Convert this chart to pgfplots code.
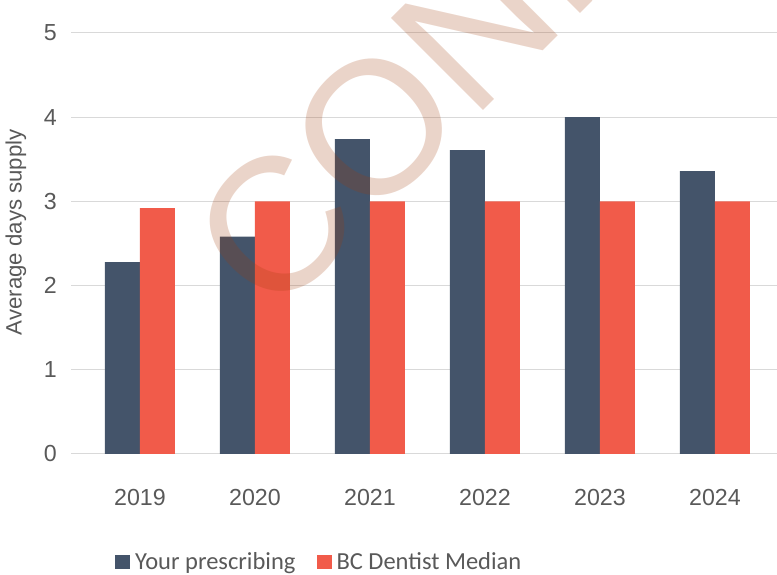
\documentclass[border=0pt]{standalone}
\usepackage{pgfplots}
\pgfplotsset{compat=1.18}
\usepackage{fontspec}
\setmainfont{Liberation Sans}
\newfontfamily\carlito{Carlito}
\definecolor{darkbar}{RGB}{68,84,106}
\definecolor{redbar}{RGB}{241,91,74}
\definecolor{gridc}{RGB}{217,217,217}
\definecolor{txt}{RGB}{89,89,89}
\definecolor{wm}{RGB}{160,60,10}
\begin{document}
\begin{tikzpicture}
\useasboundingbox (0,0) rectangle (777bp,575bp);
\clip (0,0) rectangle (777bp,575bp);
\begin{axis}[
  at={(71bp,121bp)}, anchor=south west,
  scale only axis, width=706bp, height=446.3bp,
  xmin=-0.6, xmax=5.54, ymin=0, ymax=5.3,
  ybar=0pt, bar width=35bp,
  axis line style={draw=none},
  major tick length=0pt,
  xtick={0,1,2,3,4,5}, xticklabels={2019,2020,2021,2022,2023,2024},
  ytick={0,1,2,3,4,5},
  ymajorgrids, grid style={gridc, line width=1bp},
  /pgf/number format/assume math mode=true,
  tick label style={font=\fontsize{23.3}{27}\selectfont, text=txt},
  x tick label style={inner sep=0pt, anchor=base, yshift=-51bp},
  y tick label style={inner sep=0pt, anchor=east, xshift=-14bp},
  ylabel={Average days supply},
  every axis y label/.style={at={(axis description cs:-0.0701,0.497)}, rotate=90, anchor=base, font=\fontsize{22.3}{26}\selectfont, text=txt, inner sep=0pt},
  legend columns=2,
  legend style={at={(axis description cs:0.0623,-0.242)}, anchor=west, draw=none, fill=none, inner sep=0pt,
    font=\carlito\fontsize{24.6}{28}\selectfont, text=txt,
    nodes={inner sep=0pt},
    /tikz/every odd column/.append style={column sep=5bp},
    /tikz/every even column/.append style={column sep=21bp}},
]
\addplot[fill=darkbar, draw=none, legend image code/.code={\fill[darkbar] (0bp,-7bp) rectangle (15bp,7bp);}]
  coordinates {(0,2.28) (1,2.58) (2,3.74) (3,3.61) (4,4.00) (5,3.36)};
\addplot[fill=redbar, draw=none, legend image code/.code={\fill[redbar] (0bp,-7bp) rectangle (15bp,7bp);}]
  coordinates {(0,2.92) (1,3.00) (2,3.00) (3,3.00) (4,3.00) (5,3.00)};
\legend{Your prescribing, BC Dentist Median}
\end{axis}
\node[rotate=45, anchor=base west, text=wm, opacity=0.22, font=\fontsize{190}{190}\selectfont, inner sep=0pt] at (272bp,253bp) {CONFIDENTIAL};
\end{tikzpicture}
\end{document}
